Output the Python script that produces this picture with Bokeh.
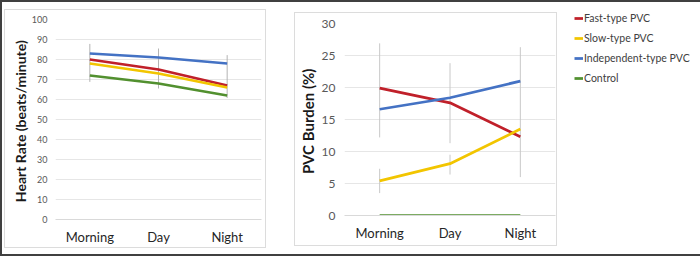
from bokeh.plotting import figure
from bokeh.models import Range1d, FactorRange, FixedTicker, Legend, LegendItem, Spacer
from bokeh.layouts import row, column
from bokeh.embed import file_html
from bokeh.resources import INLINE

# ---------------- data ----------------
periods = ["Morning", "Day", "Night"]
series_names = ["Fast-type PVC", "Slow-type PVC", "Independent-type PVC", "Control"]
series_colors = ["#C0202A", "#F2C500", "#4472C4", "#52902F"]

# Heart rate (beats/minute)
hr_fast = [80, 75, 67]
hr_slow = [78, 73, 66]
hr_indep = [83, 81, 78]
hr_control = [72, 68, 62]
hr_err_low = [68.8, 65.5, 60.8]
hr_err_high = [87.8, 85.5, 82.2]
hr_ticks = [0, 10, 20, 30, 40, 50, 60, 70, 80, 90, 100]

# PVC burden (%)
pvc_fast = [19.9, 17.6, 12.3]
pvc_slow = [5.4, 8.1, 13.5]
pvc_indep = [16.6, 18.4, 21.0]
pvc_control = [0.0, 0.0, 0.0]
pvc_err_x = ["Morning", "Morning", "Day", "Day", "Night"]
pvc_err_low = [12.2, 3.5, 11.3, 6.4, 6.0]
pvc_err_high = [26.9, 7.3, 23.8, 9.5, 26.3]
pvc_ticks = [0, 5, 10, 15, 20, 25, 30]

FONT = "Lato"
PANEL_BORDER = {"outline": "1px solid #dcdcdc"}


def style_chart(p, ticks, ylabel, label_size, tick_size, tick_standoff, label_standoff):
    p.outline_line_color = None
    p.background_fill_color = "white"
    p.border_fill_color = "white"
    p.xgrid.grid_line_color = None
    p.ygrid.grid_line_color = "#e6e6e6"
    p.ygrid.ticker = FixedTicker(ticks=ticks)
    p.yaxis.ticker = FixedTicker(ticks=ticks)
    for ax in (p.xaxis[0], p.yaxis[0]):
        ax.major_tick_out = 0
        ax.major_tick_in = 0
        ax.minor_tick_out = 0
        ax.minor_tick_in = 0
        ax.major_tick_line_color = None
        ax.minor_tick_line_color = None
    p.yaxis.axis_line_color = None
    p.yaxis.major_label_text_font = FONT
    p.yaxis.major_label_text_font_size = tick_size
    p.yaxis.major_label_text_color = "#595959"
    p.yaxis.major_label_standoff = tick_standoff
    p.yaxis.axis_label = ylabel
    p.yaxis.axis_label_text_font = FONT
    p.yaxis.axis_label_text_font_style = "bold"
    p.yaxis.axis_label_text_font_size = label_size
    p.yaxis.axis_label_text_color = "#1a1a1a"
    p.yaxis.axis_label_standoff = label_standoff
    p.xaxis.axis_line_color = "#d9d9d9"
    p.xaxis.major_label_text_font = FONT
    p.xaxis.major_label_text_font_size = "13px"
    p.xaxis.major_label_text_color = "#262626"
    p.xaxis.major_label_standoff = 9


# ---------------- left chart: heart rate ----------------
p1 = figure(x_range=FactorRange(*periods), y_range=Range1d(0, 100),
            frame_width=206, frame_height=200,
            min_border_left=50, min_border_right=4, min_border_top=9, min_border_bottom=26,
            output_backend="svg", toolbar_location=None, styles=PANEL_BORDER)
style_chart(p1, hr_ticks, "Heart Rate  (beats/minute)", "14px", "9px", 8, 0)
p1.segment(x0=periods, y0=hr_err_low, x1=periods, y1=hr_err_high,
           line_color="#b4b4b4", line_width=1)
for ys, c in zip([hr_fast, hr_slow, hr_indep, hr_control], series_colors):
    p1.line(x=periods, y=ys, line_color=c, line_width=2.75)

# ---------------- right chart: PVC burden ----------------
p2 = figure(x_range=FactorRange(*periods), y_range=Range1d(0, 30),
            frame_width=211, frame_height=192,
            min_border_left=47, min_border_right=1, min_border_top=10, min_border_bottom=30,
            output_backend="svg", toolbar_location=None, styles=PANEL_BORDER)
style_chart(p2, pvc_ticks, "PVC Burden  (%)", "15px", "12px", 9, 2)
p2.segment(x0=pvc_err_x, y0=pvc_err_low, x1=pvc_err_x, y1=pvc_err_high,
           line_color="#c8c8c8", line_width=1)
for ys, c in zip([pvc_fast, pvc_slow, pvc_indep, pvc_control], series_colors):
    p2.line(x=periods, y=ys, line_color=c, line_width=2.75)

# ---------------- legend (separate panel, series drawn off-screen) ----------------
p3 = figure(width=126, height=252, min_border=0, x_axis_type=None, y_axis_type=None,
            x_range=FactorRange(*periods), y_range=Range1d(1000, 1001),
            output_backend="svg", toolbar_location=None)
p3.outline_line_color = None
p3.xgrid.visible = False
p3.ygrid.visible = False
items = []
for name, ys, c in zip(series_names, [pvc_fast, pvc_slow, pvc_indep, pvc_control], series_colors):
    r = p3.line(x=periods, y=ys, line_color=c, line_width=2.75)
    items.append(LegendItem(label=name, renderers=[r]))
legend = Legend(items=items, location=(0, 166), orientation="vertical",
                border_line_color=None, background_fill_alpha=0,
                padding=0, margin=0, spacing=0,
                glyph_width=9, glyph_height=20, label_height=20, label_standoff=1,
                label_text_font=FONT, label_text_font_size="10.5px",
                label_text_color="#404040")
p3.add_layout(legend)

root = row(
    Spacer(width=5, height=256),
    column(Spacer(width=260, height=10), p1),
    Spacer(width=30, height=256),
    column(Spacer(width=259, height=13), p2),
    Spacer(width=18, height=256),
    column(Spacer(width=126, height=2), p3),
    Spacer(width=2, height=256),
    styles={"outline": "2px solid #404040", "outline-offset": "-2px"},
)

open("out.html", "w").write(file_html(root, INLINE))
